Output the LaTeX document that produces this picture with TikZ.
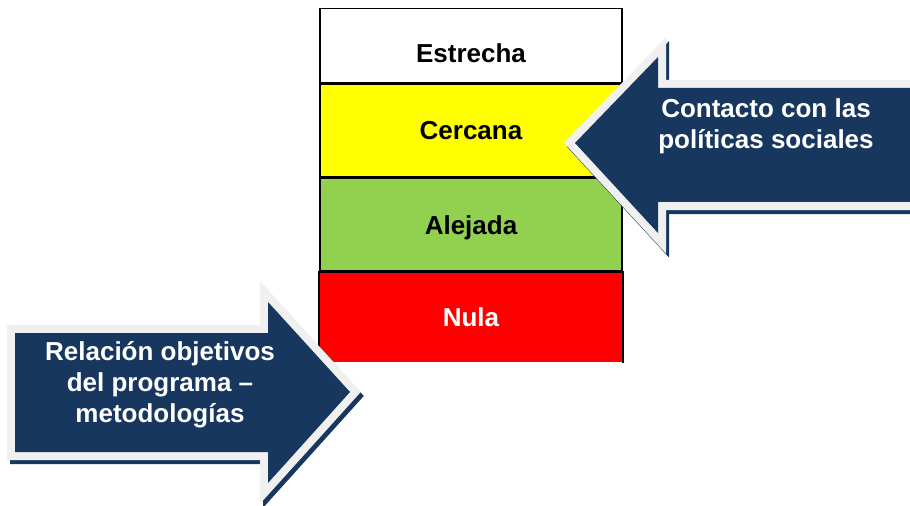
\documentclass[tikz,border=0pt]{standalone}
\usepackage{fontspec}
\setmainfont{Liberation Sans}
\usepackage{xcolor}
\usetikzlibrary{positioning}
\definecolor{azul}{HTML}{17375E}
\definecolor{borde}{HTML}{F0F0F0}
\definecolor{amarillo}{HTML}{FFFF00}
\definecolor{verde}{HTML}{92D050}
\definecolor{rojo}{HTML}{FF0000}

\begin{document}
\begin{tikzpicture}[x=0.75pt,y=-0.75pt,node distance=0pt]
 \tikzstyle{cell}=[draw=black, line width=1.2pt, minimum width=226.5pt, minimum height=69.5pt, inner sep=0pt, text height=14.25pt, text depth=0pt, font=\bfseries\fontsize{19.5}{23}\selectfont]
 \tikzstyle{flecha}=[fill=azul, line join=miter,
   preaction={draw=azul, line width=12pt, transform canvas={xshift=2.25pt,yshift=-3pt}},
   preaction={draw=borde, line width=12pt}]
 \tikzstyle{rotulo}=[text=white, align=center, inner sep=0pt, font=\bfseries\fontsize{19.5}{23.25}\selectfont]
 \clip (0,0) rectangle (910,506);
 % niveles
 \node[cell, minimum height=55.5pt, text height=26.25pt] (estrecha) at (471,45.5) {Estrecha};
 \node[cell, fill=amarillo]                      (cercana) [below=of estrecha] {Cercana};
 \node[cell, fill=verde]                         (alejada) [below=of cercana]  {Alejada};
 \node[cell, draw=none, fill=rojo, minimum height=67pt, text=white] (nula) [below=of alejada] {Nula};
 \draw[line width=1.2pt] (nula.south west) -- (nula.north west) -- (nula.north east) -- (nula.south east);
 % flechas
 \path[flecha] (575,143) -- (658,57) -- (658,88) -- (940,88) -- (940,202) -- (658,202) -- (658,233) -- cycle;
 \path[flecha] (350,392) -- (268,302) -- (268,333) -- (15,333) -- (15,452) -- (268,452) -- (268,483) -- cycle;
 \node[rotulo] (contacto) at (766,126) {Contacto con las\\políticas sociales};
 \node[rotulo] (relacion) at (160,385) {Relación objetivos\\del programa --\\metodologías};
\end{tikzpicture}
\end{document}
